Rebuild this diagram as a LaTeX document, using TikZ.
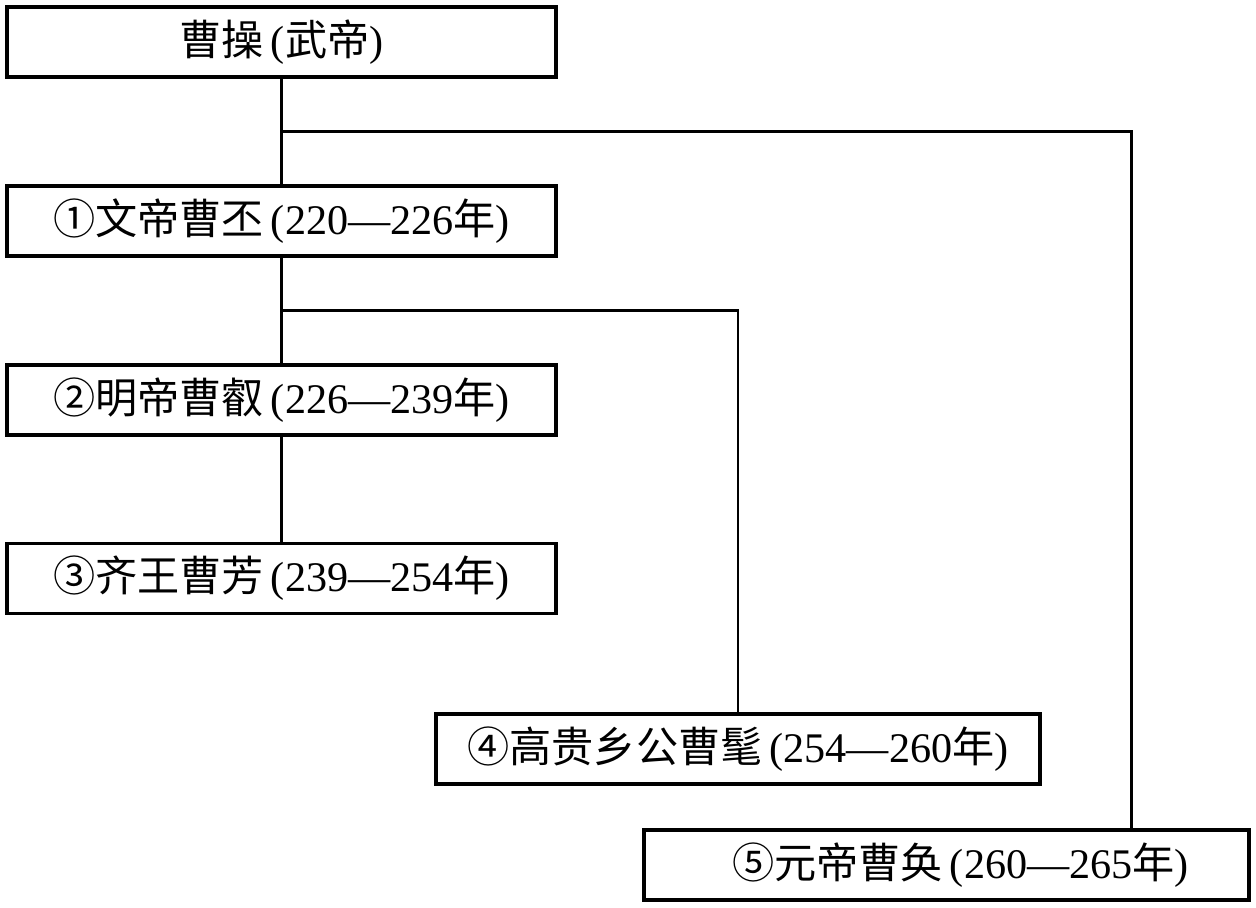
\documentclass[tikz,border=0pt]{standalone}
\usepackage{fontspec}
\setmainfont{Liberation Serif}
\newfontfamily\cjk{Noto Sans CJK SC}
\newcommand\zh[1]{{\cjk #1}}
\usetikzlibrary{calc}

\begin{document}
\begin{tikzpicture}[x=0.02cm,y=-0.02cm,
    ruler/.style={draw,line width=1.8pt,minimum width=10.98cm,minimum height=1.4cm,
        inner sep=0pt,font=\fontsize{24}{28}\selectfont},
    link/.style={line width=1.5pt}]
            \useasboundingbox (0,0) rectangle (1256,908);

            \node[ruler] (b0) at (281.5,42) {\zh{曹操}\,(\zh{武帝})};
            \node[ruler] (b1) at (281.5,221) {\zh{①文帝曹丕}\,(220—226\zh{年})};
            \node[ruler] (b2) at (281.5,400) {\zh{②明帝曹叡}\,(226—239\zh{年})};
            \node[ruler] (b3) at (281.5,578.5) {\zh{③齐王曹芳}\,(239—254\zh{年})};
            \node[ruler,minimum width=12.08cm] (b4) at (738,749) {\zh{④高贵乡公曹髦}\,(254—260\zh{年})};
            \node[ruler,minimum width=12.1cm] (b5) at (946.5,865) {\hspace{0.56cm}\zh{⑤元帝曹奂}\,(260—265\zh{年})};

            \draw[link] (b0) -- (b1);
            \draw[link] ($(b0.south)!.5!(b1.north)$) -| ([xshift=-2.38cm]b5.north east);
            \draw[link] (b1) -- (b2);
            \draw[link] ($(b1.south)!.5!(b2.north)$) -| (b4.north);
            \draw[link] (b2) -- (b3);
        \end{tikzpicture}
\end{document}
